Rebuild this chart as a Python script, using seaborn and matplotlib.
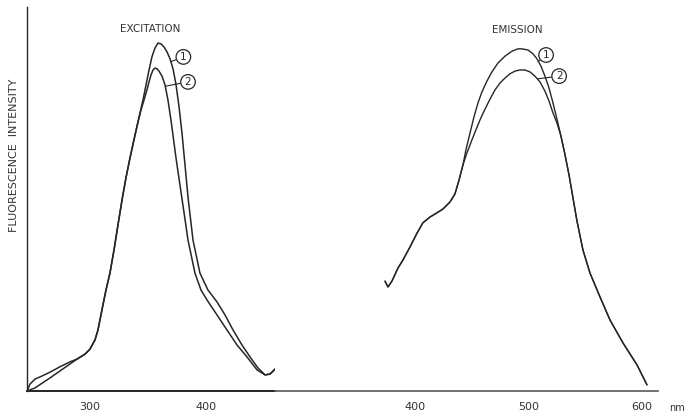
import matplotlib
matplotlib.use("Agg")
import matplotlib.pyplot as plt
import seaborn as sns
import pandas as pd

# excitation spectra (wavelength nm, relative intensity)
ex1_nm = [245.7, 252.6, 265.5, 280.2, 288.8, 295.7, 300.0, 304.3, 306.9, 310.3, 313.8, 317.2,
          320.7, 324.1, 327.6, 331.0, 334.5, 337.9, 341.4, 343.1, 345.7, 348.3, 350.9, 353.4,
          356.0, 358.6, 361.2, 363.8, 366.4, 369.0, 371.6, 374.1, 376.7, 379.3, 381.9, 384.5,
          388.8, 394.8, 401.7, 409.5, 416.4, 423.3, 431.0, 437.9, 444.8, 450.9, 455.2, 459.5]
ex1_int = [0.0, 0.8, 3.4, 6.5, 8.3, 9.6, 10.9, 13.3, 15.9, 21.1, 26.3, 30.7,
           36.7, 43.2, 49.7, 55.5, 60.7, 65.4, 70.1, 72.4, 75.8, 79.7, 83.6, 87.0,
           89.3, 90.6, 90.4, 89.6, 88.3, 86.5, 83.9, 79.9, 74.2, 67.2, 58.9, 50.5,
           39.3, 30.7, 26.3, 23.2, 19.8, 15.9, 12.0, 8.9, 6.0, 4.2, 4.4, 5.7]

ex2_nm = [245.7, 248.3, 252.6, 258.6, 265.5, 274.1, 282.8, 288.8, 295.7, 300.0, 304.3, 306.9,
          310.3, 313.8, 317.2, 320.7, 324.1, 327.6, 331.0, 334.5, 337.9, 341.4, 344.0, 346.6,
          349.1, 350.9, 352.6, 354.3, 356.0, 357.8, 359.5, 362.1, 364.7, 367.2, 369.8, 374.1,
          377.6, 381.0, 384.5, 390.5, 395.7, 400.9, 409.5, 418.1, 426.7, 435.3, 444.0, 450.9,
          455.2, 459.5]
ex2_int = [0.0, 1.8, 3.1, 3.9, 4.9, 6.3, 7.6, 8.3, 9.6, 10.9, 13.3, 15.9,
           21.1, 26.3, 30.7, 36.7, 43.2, 49.7, 55.5, 60.7, 65.4, 70.1, 73.2, 75.8,
           78.4, 80.5, 82.3, 83.6, 84.1, 83.9, 83.3, 82.0, 79.7, 75.8, 70.6, 60.8,
           53.6, 46.6, 39.3, 30.7, 26.3, 23.7, 19.8, 15.9, 12.0, 8.9, 5.5, 4.2,
           4.4, 5.7]

# emission spectra
em1_nm = [373.6, 376.2, 379.7, 385.0, 389.4, 395.6, 401.8, 407.0, 413.2, 419.4, 424.7, 430.8,
          435.2, 438.8, 442.3, 444.9, 448.5, 452.0, 455.5, 459.0, 463.4, 467.8, 473.1, 479.3,
          485.5, 490.7, 494.3, 499.6, 504.0, 507.5, 511.0, 514.5, 518.1, 521.6, 525.1, 528.6,
          532.2, 535.7, 539.2, 542.7, 548.0, 554.2, 563.0, 571.8, 583.3, 595.6, 604.4]
em1_int = [28.6, 27.1, 28.6, 32.0, 34.1, 37.5, 41.1, 43.8, 45.3, 46.4, 47.4, 49.2,
           51.3, 54.9, 58.9, 62.8, 67.2, 71.4, 75.0, 77.9, 80.7, 83.1, 85.4, 87.2,
           88.5, 89.1, 89.1, 88.8, 87.8, 86.5, 84.6, 82.0, 78.9, 75.0, 70.8, 66.4,
           61.5, 56.3, 50.3, 44.3, 36.7, 30.7, 24.5, 18.5, 12.5, 6.8, 1.6]

em2_nm = [373.6, 376.2, 379.7, 385.0, 389.4, 395.6, 401.8, 407.0, 413.2, 419.4, 424.7, 430.8,
          435.2, 438.8, 442.3, 445.8, 450.2, 453.7, 457.3, 461.7, 466.1, 470.5, 474.9, 479.3,
          483.7, 488.1, 492.5, 496.9, 501.3, 505.7, 510.1, 514.5, 518.1, 521.6, 525.1, 528.6,
          532.2, 535.7, 539.2, 542.7, 548.0, 554.2, 563.0, 571.8, 583.3, 595.6, 604.4]
em2_int = [28.6, 27.1, 28.6, 32.0, 34.1, 37.5, 41.1, 43.8, 45.3, 46.4, 47.4, 49.2,
           51.3, 54.9, 58.9, 62.0, 65.4, 68.0, 70.6, 73.4, 76.0, 78.4, 80.2, 81.5,
           82.6, 83.3, 83.6, 83.6, 83.1, 82.0, 80.5, 78.1, 75.5, 72.4, 69.8, 66.4,
           61.5, 56.3, 50.3, 44.3, 36.7, 30.7, 24.5, 18.5, 12.5, 6.8, 1.6]

ex_ticks = [300, 350, 400]
ex_labels = ["300", "", "400"]
em_ticks = [400, 450, 500, 550, 600]
em_labels = ["400", "", "500", "", "600"]

ink = "#262626"
sns.set_style("white")
plt.rcParams["font.family"] = ["DejaVu Sans"]

W, H = 686, 420
fig = plt.figure(figsize=(W / 100, H / 100), dpi=100)

def frac(x0, x1, y0, y1):
    return [x0 / W, 1 - y1 / H, (x1 - x0) / W, (y1 - y0) / H]

ax1 = fig.add_axes(frac(27, 275, 7, 391))
ax2 = fig.add_axes(frac(275, 658, 7, 391))

ex = pd.concat([
    pd.DataFrame({"nm": ex1_nm, "I": ex1_int, "s": "1"}),
    pd.DataFrame({"nm": ex2_nm, "I": ex2_int, "s": "2"}),
])
em = pd.concat([
    pd.DataFrame({"nm": em1_nm, "I": em1_int, "s": "1"}),
    pd.DataFrame({"nm": em2_nm, "I": em2_int, "s": "2"}),
])

sns.lineplot(data=ex, x="nm", y="I", units="s", estimator=None, sort=False,
             color=ink, lw=1.1, ax=ax1)
sns.lineplot(data=em, x="nm", y="I", units="s", estimator=None, sort=False,
             color=ink, lw=1.0, ax=ax2)

ax1.set_xlim(245.7, 459.5)
ax2.set_xlim(276.7, 614.1)
for ax in (ax1, ax2):
    ax.set_ylim(0, 100)
    ax.set_xlabel("")
    ax.set_ylabel("")
    ax.set_yticks([])
    for s in ("top", "right"):
        ax.spines[s].set_visible(False)
    ax.patch.set_alpha(0)

ax2.spines["left"].set_visible(False)
ax1.spines["left"].set_color(ink)
ax1.spines["left"].set_linewidth(1.0)
ax1.spines["bottom"].set_color(ink)
ax1.spines["bottom"].set_linewidth(1.4)
ax2.spines["bottom"].set_color("#5a5a5a")
ax2.spines["bottom"].set_linewidth(1.2)

ax1.set_xticks(ex_ticks, ex_labels)
ax2.set_xticks(em_ticks, em_labels)
ax1.tick_params(axis="x", direction="inout", length=4, width=0.9, colors=ink,
                labelsize=8, pad=6, labelcolor="#333333")
ax2.tick_params(axis="x", direction="inout", length=4, width=0.8, colors="#8a8a8a",
                labelsize=8, pad=6, labelcolor="#333333")

# titles and labels
fig.text(150 / W, 1 - 29 / H, "EXCITATION", ha="center", va="center", fontsize=7.5, color="#333333")
fig.text(517 / W, 1 - 30 / H, "EMISSION", ha="center", va="center", fontsize=7.5, color="#333333")
fig.text(14 / W, 1 - 155 / H, "FLUORESCENCE  INTENSITY", rotation=90, ha="center", va="center",
         fontsize=8, color="#333333")
fig.text(677 / W, 1 - 408 / H, "nm", ha="center", va="center", fontsize=7, color="#333333")

# circled curve numbers with leaders
circ = dict(boxstyle="circle,pad=0.22", fc="white", ec=ink, lw=0.9)
arrow = dict(arrowstyle="-", color=ink, lw=0.8, shrinkA=0, shrinkB=0)
ax1.annotate("1", xy=(370.0, 85.8), xytext=(380.5, 87.0), fontsize=7.5, ha="center", va="center",
             bbox=circ, arrowprops=arrow, color=ink)
ax1.annotate("2", xy=(365.5, 79.4), xytext=(384.5, 80.5), fontsize=7.5, ha="center", va="center",
             bbox=circ, arrowprops=arrow, color=ink)
ax2.annotate("1", xy=(508.5, 85.8), xytext=(515.5, 87.5), fontsize=7.5, ha="center", va="center",
             bbox=circ, arrowprops=arrow, color=ink)
ax2.annotate("2", xy=(508.4, 81.3), xytext=(527.0, 82.0), fontsize=7.5, ha="center", va="center",
             bbox=circ, arrowprops=arrow, color=ink)

fig.savefig("out.png", dpi=100)
